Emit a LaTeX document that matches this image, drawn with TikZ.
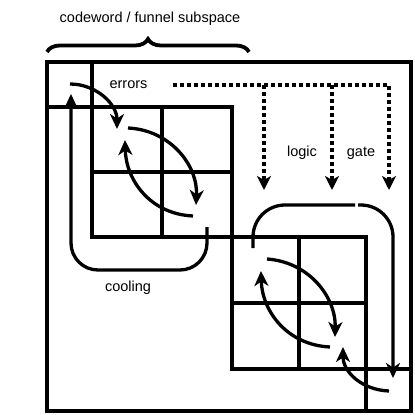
\documentclass[tikz,border=0pt]{standalone}
\usepackage{fontspec}
\setmainfont{Liberation Sans}
\usetikzlibrary{arrows.meta,decorations.pathreplacing}
\begin{document}
\begin{tikzpicture}[x=1pt,y=-1pt,
  gridline/.style={line width=3.2pt},
  flow/.style={line width=3.3pt,-{Stealth[length=15pt,width=14pt,inset=4.5pt]}},
  plainflow/.style={line width=3.3pt},
  dotflow/.style={line width=3.6pt,dash pattern=on 4pt off 3pt,-{Stealth[length=14pt,width=14pt,inset=4pt]}},
  lbl/.style={font=\fontsize{14.5}{17}\selectfont,anchor=base,inner sep=0pt}]
\useasboundingbox (0,0) rectangle (415,415);
% matrix structure
\draw[gridline] (47,62) rectangle (411,411);
\draw[gridline] (92,62) -- (92,237) -- (366,237) -- (366,411);
\draw[gridline] (47,107) -- (232,107) -- (232,369) -- (411,369);
\draw[gridline] (162,107) -- (162,237);
\draw[gridline] (92,172) -- (232,172);
\draw[gridline] (299,237) -- (299,369);
\draw[gridline] (232,303) -- (366,303);
% brace and title
\draw[line width=3.8pt,decorate,decoration={brace,amplitude=13pt}] (47,52) -- (249,52);
\node[lbl] (title) at (150,22) {codeword / funnel subspace};
% labels
\node[lbl] (errors) at (128.5,88) {errors};
\node[lbl] (logic) at (302,156) {logic};
\node[lbl] (gate) at (361,156) {gate};
\node[lbl] (cooling) at (128,291) {cooling};
% coordinates
\coordinate (e0) at (70,84);
\coordinate (e1) at (117,129);
\coordinate (a0) at (128,128);
\coordinate (a1) at (196,205);
\coordinate (b0) at (193,216);
\coordinate (b1) at (125,140);
\coordinate (c0) at (207,227);
\coordinate (c1) at (71,94);
\coordinate (p0) at (267,259);
\coordinate (p1) at (335,337);
\coordinate (q0) at (330,347);
\coordinate (q1) at (261,271);
\coordinate (r0) at (253,248);
\coordinate (r1) at (355,205);
\coordinate (s0) at (358,205);
\coordinate (s1) at (393,378);
\coordinate (t0) at (389,391);
\coordinate (t1) at (343,347);
\coordinate (d0) at (173,85);
\coordinate (dA) at (264,85);
\coordinate (dB) at (332,85);
\coordinate (dA1) at (264,190);
\coordinate (dB1) at (332,190);
\coordinate (dC1) at (389,190);
% flow arrows
\draw[flow] (e0) .. controls (96,84) and (117,104) .. (e1);
\draw[flow] (a0) .. controls (170,130) and (198,165) .. (a1);
\draw[flow] (b0) .. controls (150,214) and (126,180) .. (b1);
\draw[flow,rounded corners=27pt] (c0) -- (207,270) -- (71,270) -- (c1);
\draw[flow] (p0) .. controls (309,262) and (336,297) .. (p1);
\draw[flow] (q0) .. controls (287,345) and (262,311) .. (q1);
\draw[plainflow,rounded corners=32pt] (r0) |- (r1);
\draw[flow,rounded corners=32pt] (s0) -| (s1);
\draw[flow] (t0) .. controls (362,390) and (343,372) .. (t1);
% dotted logic-gate arrows
\draw[dotflow] (d0) -| (dC1);
\draw[dotflow] (dA) -- (dA1);
\draw[dotflow] (dB) -- (dB1);
\end{tikzpicture}
\end{document}
